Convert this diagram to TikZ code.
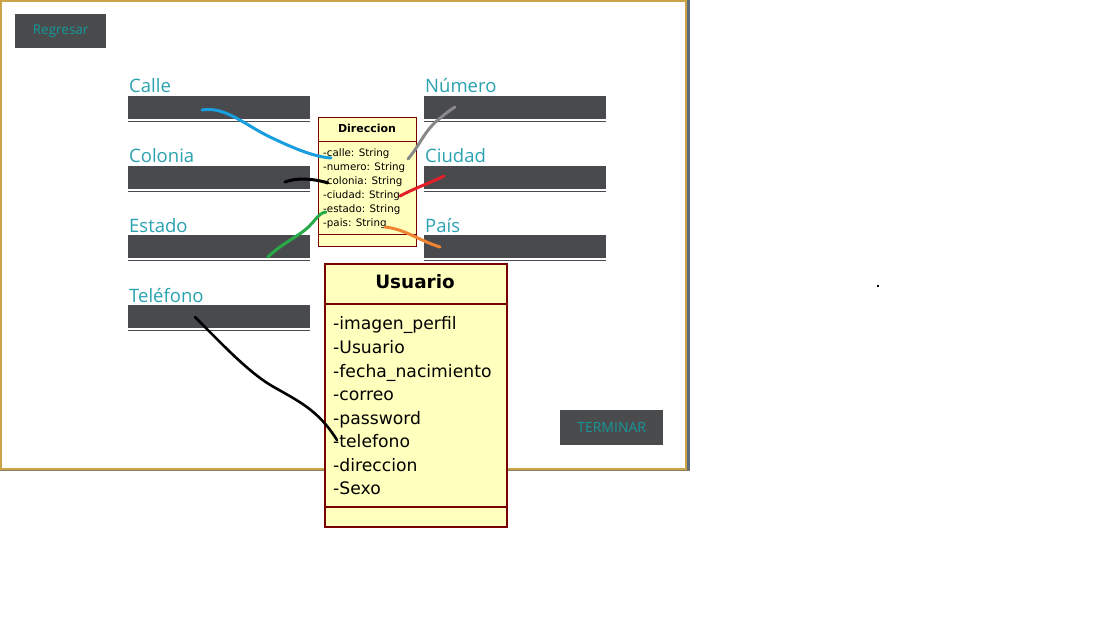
\documentclass[tikz,border=0pt]{standalone}
\usepackage{fontspec}
\newfontfamily\uifont{Open Sans}
\newfontfamily\umlfont{DejaVu Sans}
\definecolor{fieldgray}{RGB}{72,74,77}
\definecolor{btngray}{RGB}{74,75,77}
\definecolor{tealA}{RGB}{42,162,176}
\definecolor{tealB}{RGB}{22,150,152}
\definecolor{umlred}{RGB}{120,0,0}
\definecolor{umlyellow}{RGB}{255,255,190}
\definecolor{gold}{RGB}{202,164,70}
\definecolor{winedge}{RGB}{95,108,122}
\definecolor{sblue}{RGB}{25,158,222}
\definecolor{sgray}{RGB}{136,136,136}
\definecolor{sred}{RGB}{226,30,40}
\definecolor{sgreen}{RGB}{40,170,72}
\definecolor{sorange}{RGB}{240,132,50}
\begin{document}
\begin{tikzpicture}[x=1pt,y=-1pt,
  field/.style={fill=fieldgray, draw=none, minimum width=182pt, minimum height=23pt, inner sep=0pt, anchor=north west},
  uline/.style={draw=fieldgray, line width=1pt},
  lbl/.style={anchor=base west, inner sep=0pt, text=tealA, font=\uifont\fontsize{18.5}{18.5}\selectfont},
  btn/.style={fill=btngray, inner sep=0pt, text=tealB, anchor=north west},
  umlbox/.style={draw=umlred, fill=umlyellow, inner sep=0pt, anchor=north west},
  dattr/.style={anchor=base west, inner sep=0pt, font=\umlfont\fontsize{10.3}{10.3}\selectfont},
  uattr/.style={anchor=base west, inner sep=0pt, font=\umlfont\fontsize{17.2}{17.2}\selectfont},
  stroke/.style={line width=3pt, line cap=round, line join=round}
]
\useasboundingbox (0,0) rectangle (1118,617);
\fill[white] (0,0) rectangle (1118,617);

% window
\draw[gold, line width=1.6pt] (1,1) rectangle (686,469);
\fill[winedge] (687,0) rectangle (690,471);
\draw[winedge!60!gold, line width=1pt] (0,470.5) -- (690,470.5);

% buttons
\node[btn, minimum width=91pt, minimum height=34pt, font=\uifont\fontsize{13.5}{13.5}\selectfont] (regresar) at (15,14) {Regresar};
\node[btn, minimum width=103pt, minimum height=35pt, font=\uifont\fontsize{14}{14}\selectfont] (terminar) at (560,410) {TERMINAR};

% fields
\node[field] (fcalle) at (128,96) {};
\node[field] (fcolonia) at (128,166) {};
\node[field] (festado) at (128,235) {};
\node[field] (ftel) at (128,305) {};
\node[field] (fnum) at (424,96) {};
\node[field] (fciudad) at (424,166) {};
\node[field] (fpais) at (424,235) {};
\foreach \f in {fcalle,fcolonia,festado,ftel,fnum,fciudad,fpais}
  \draw[uline] ([yshift=-2pt]\f.south west) -- ([yshift=-2pt]\f.south east);

% labels
\node[lbl] (lcalle) at (129,93) {Calle};
\node[lbl] (lcolonia) at (129,163) {Colonia};
\node[lbl] (lestado) at (129,233) {Estado};
\node[lbl] (ltel) at (129,303) {Teléfono};
\node[lbl] (lnum) at (425,93) {Número};
\node[lbl] (lciudad) at (425,163) {Ciudad};
\node[lbl] (lpais) at (425,233) {País};

% Direccion class
\node[umlbox, line width=1pt, minimum width=98pt, minimum height=129pt] (dir) at (318,117) {};
\draw[umlred, line width=1pt] (dir.west |- 0,142) -- (dir.east |- 0,142);
\draw[umlred, line width=1pt] (dir.west |- 0,235) -- (dir.east |- 0,235);
\node[anchor=base, inner sep=0pt, font=\umlfont\bfseries\fontsize{11}{11}\selectfont] (dirtitle) at (367,133) {Direccion};
\node[dattr] (dcalle) at (323,157) {-calle: String};
\node[dattr] (dnumero) at (323,171) {-numero: String};
\node[dattr] (dcolonia) at (323,185) {-colonia: String};
\node[dattr] (dciudad) at (323,199) {-ciudad: String};
\node[dattr] (destado) at (323,213) {-estado: String};
\node[dattr] (dpais) at (323,227) {-pais: String};

% strokes to Direccion
\coordinate (bS) at (202,110);  \coordinate (bE) at (331,158);
\coordinate (kS) at (285,182);  \coordinate (kE) at (328,183);
\coordinate (gS) at (408,159);  \coordinate (gE) at (455,107);
\coordinate (rS) at (400,196);  \coordinate (rE) at (444,176);
\coordinate (nS) at (268,257);  \coordinate (nE) at (326,212);
\coordinate (oS) at (385,227);  \coordinate (oE) at (440,247);
\draw[stroke, sblue] (bS) .. controls (225,106) and (245,125) .. (270,137) .. controls (295,149) and (315,157) .. (bE);
\draw[stroke, black] (kS) .. controls (295,178) and (312,178) .. (kE);
\draw[stroke, sgray] (gS) .. controls (420,145) and (425,130) .. (438,120) .. controls (445,114) and (450,110) .. (gE);
\draw[stroke, sred] (rS) .. controls (415,188) and (430,183) .. (rE);
\draw[stroke, sgreen] (nS) .. controls (280,245) and (295,238) .. (305,230) .. controls (315,222) and (318,213) .. (nE);
\draw[stroke, sorange] (oS) .. controls (405,229) and (420,241) .. (oE);

% Usuario class
\node[umlbox, line width=2pt, minimum width=182pt, minimum height=263pt] (usr) at (324,263) {};
\draw[umlred, line width=2pt] (usr.west |- 0,304) -- (usr.east |- 0,304);
\draw[umlred, line width=2pt] (usr.west |- 0,507) -- (usr.east |- 0,507);
\node[anchor=base, inner sep=0pt, font=\umlfont\bfseries\fontsize{18.4}{18.4}\selectfont] (usrtitle) at (415,289) {Usuario};
\node[uattr] (uimg) at (333,330) {-imagen\_perfil};
\node[uattr] (uusr) at (333,353.5) {-Usuario};
\node[uattr] (ufecha) at (333,377) {-fecha\_nacimiento};
\node[uattr] (ucorreo) at (333,400.5) {-correo};
\node[uattr] (upass) at (333,424) {-password};
\node[uattr] (utel) at (333,447.5) {-telefono};
\node[uattr] (udir) at (333,471) {-direccion};
\node[uattr] (usexo) at (333,494.5) {-Sexo};

% telefono stroke
\coordinate (tS) at (195,317);
\coordinate (tE) at (337,440);
\draw[stroke, black, line width=2.6pt] (tS) .. controls (220,342) and (248,372) .. (272,386) .. controls (300,402) and (318,410) .. (tE);

% stray dot
\fill[black] (877,285) rectangle (879,287);
\end{tikzpicture}
\end{document}
